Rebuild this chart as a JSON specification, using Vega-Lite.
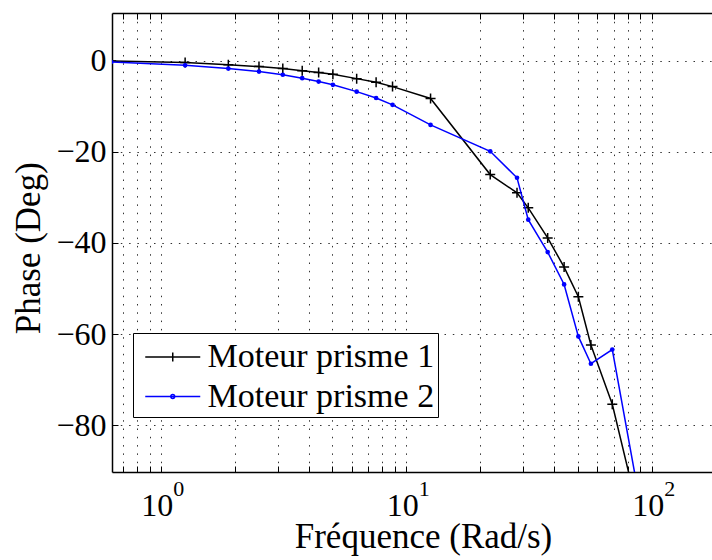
{
  "$schema": "https://vega.github.io/schema/vega-lite/v6.json",
  "width": 600,
  "height": 459,
  "autosize": {"type": "none"},
  "padding": {"left": 112, "top": 13, "right": 0, "bottom": 88},
  "background": "white",
  "data": {"values": [
    {"series": "Moteur prisme 1", "freq": 0.628, "phase": -0.1},
    {"series": "Moteur prisme 1", "freq": 1.257, "phase": -0.4},
    {"series": "Moteur prisme 1", "freq": 1.885, "phase": -0.9},
    {"series": "Moteur prisme 1", "freq": 2.513, "phase": -1.3},
    {"series": "Moteur prisme 1", "freq": 3.142, "phase": -1.75},
    {"series": "Moteur prisme 1", "freq": 3.770, "phase": -2.2},
    {"series": "Moteur prisme 1", "freq": 4.398, "phase": -2.6},
    {"series": "Moteur prisme 1", "freq": 5.027, "phase": -3.0},
    {"series": "Moteur prisme 1", "freq": 6.283, "phase": -3.95},
    {"series": "Moteur prisme 1", "freq": 7.540, "phase": -4.76},
    {"series": "Moteur prisme 1", "freq": 8.796, "phase": -5.7},
    {"series": "Moteur prisme 1", "freq": 12.566, "phase": -8.3},
    {"series": "Moteur prisme 1", "freq": 21.991, "phase": -25.0},
    {"series": "Moteur prisme 1", "freq": 28.274, "phase": -29.0},
    {"series": "Moteur prisme 1", "freq": 31.416, "phase": -32.3},
    {"series": "Moteur prisme 1", "freq": 37.699, "phase": -38.9},
    {"series": "Moteur prisme 1", "freq": 43.982, "phase": -45.3},
    {"series": "Moteur prisme 1", "freq": 50.265, "phase": -51.8},
    {"series": "Moteur prisme 1", "freq": 56.549, "phase": -62.4},
    {"series": "Moteur prisme 1", "freq": 69.115, "phase": -75.4},
    {"series": "Moteur prisme 1", "freq": 94.248, "phase": -105.6},
    {"series": "Moteur prisme 2", "freq": 0.628, "phase": -0.3},
    {"series": "Moteur prisme 2", "freq": 1.257, "phase": -1.03},
    {"series": "Moteur prisme 2", "freq": 1.885, "phase": -1.75},
    {"series": "Moteur prisme 2", "freq": 2.513, "phase": -2.4},
    {"series": "Moteur prisme 2", "freq": 3.142, "phase": -3.1},
    {"series": "Moteur prisme 2", "freq": 3.770, "phase": -3.85},
    {"series": "Moteur prisme 2", "freq": 4.398, "phase": -4.6},
    {"series": "Moteur prisme 2", "freq": 5.027, "phase": -5.3},
    {"series": "Moteur prisme 2", "freq": 6.283, "phase": -6.8},
    {"series": "Moteur prisme 2", "freq": 7.540, "phase": -8.2},
    {"series": "Moteur prisme 2", "freq": 8.796, "phase": -9.7},
    {"series": "Moteur prisme 2", "freq": 12.566, "phase": -14.1},
    {"series": "Moteur prisme 2", "freq": 21.991, "phase": -19.9},
    {"series": "Moteur prisme 2", "freq": 28.274, "phase": -25.7},
    {"series": "Moteur prisme 2", "freq": 31.416, "phase": -34.9},
    {"series": "Moteur prisme 2", "freq": 37.699, "phase": -42.0},
    {"series": "Moteur prisme 2", "freq": 43.982, "phase": -49.1},
    {"series": "Moteur prisme 2", "freq": 50.265, "phase": -60.5},
    {"series": "Moteur prisme 2", "freq": 56.549, "phase": -66.5},
    {"series": "Moteur prisme 2", "freq": 69.115, "phase": -63.4},
    {"series": "Moteur prisme 2", "freq": 94.248, "phase": -103.4}
  ]},
  "resolve": {"axis": {"x": "independent"}},
  "layer": [
    {
      "transform": [{"filter": "datum.series == 'Moteur prisme 1'"}],
      "mark": {"type": "line", "clip": true, "strokeWidth": 1.5, "color": "#000000"},
      "encoding": {
        "x": {"field": "freq", "type": "quantitative",
          "scale": {"type": "log", "domain": [0.633, 176.1], "nice": false},
          "axis": {
            "title": "Fréquence (Rad/s)",
            "values": [0.7, 0.8, 0.9, 1, 2, 3, 4, 5, 6, 7, 8, 9, 10, 20, 30, 40, 50, 60, 70, 80, 90, 100],
            "labelExpr": "(datum.value == 1 || datum.value == 10 || datum.value == 100) ? '10' : ''",
            "grid": true, "tickSize": -6, "labelPadding": 24, "labelFontSize": 32,
            "labelAlign": "right", "labelOffset": 12,
            "labelFlush": false, "labelOverlap": false,
            "titleFontSize": 35, "titleX": 311, "titleY": 75,
            "titleBaseline": "alphabetic", "titleAlign": "center"
          }
        },
        "y": {"field": "phase", "type": "quantitative",
          "scale": {"domain": [-90.25, 10.45], "nice": false, "zero": false},
          "axis": {
            "title": "Phase (Deg)",
            "values": [-80, -60, -40, -20, 0], "format": "d",
            "grid": true, "tickSize": -6, "labelPadding": 12, "labelFontSize": 32,
            "titleFontSize": 35, "titleX": -73, "titleY": 234.7, "titleAngle": 270,
            "titleAlign": "center", "titleBaseline": "alphabetic"
          }
        }
      }
    },
    {
      "transform": [{"filter": "datum.series == 'Moteur prisme 1'"}],
      "mark": {"type": "point", "clip": true, "shape": "M-1,0H1M0,-1V1", "size": 100, "filled": false, "stroke": "#000000", "strokeWidth": 1.5, "opacity": 1},
      "encoding": {
        "x": {"field": "freq", "type": "quantitative",
          "axis": {"orient": "bottom", "title": null, "domain": false, "grid": false,
            "tickSize": -6, "tickOpacity": 0, "labelPadding": 12, "labelFontSize": 22,
            "labelAlign": "left", "labelOffset": 12,
            "labelFlush": false, "labelOverlap": false,
            "values": [1, 10, 100],
            "labelExpr": "datum.value == 1 ? '0' : datum.value == 10 ? '1' : '2'"}},
        "y": {"field": "phase", "type": "quantitative"}
      }
    },
    {
      "transform": [{"filter": "datum.series == 'Moteur prisme 2'"}],
      "mark": {"type": "line", "clip": true, "strokeWidth": 1.5, "color": "#0000ff"},
      "encoding": {
        "x": {"field": "freq", "type": "quantitative", "axis": null},
        "y": {"field": "phase", "type": "quantitative"}
      }
    },
    {
      "transform": [{"filter": "datum.series == 'Moteur prisme 2'"}],
      "mark": {"type": "point", "clip": true, "shape": "circle", "size": 22, "filled": true, "color": "#0000ff", "opacity": 1},
      "encoding": {
        "x": {"field": "freq", "type": "quantitative", "axis": null},
        "y": {"field": "phase", "type": "quantitative"}
      }
    },
    {
      "transform": [{"filter": "datum.freq > 90"}],
      "mark": {"type": "point", "clip": true, "filled": false, "strokeWidth": 1.5, "opacity": 1},
      "encoding": {
        "x": {"field": "freq", "type": "quantitative",
          "axis": {"orient": "top", "title": null, "labels": false, "grid": false, "tickSize": -6,
            "values": [0.7, 0.8, 0.9, 1, 2, 3, 4, 5, 6, 7, 8, 9, 10, 20, 30, 40, 50, 60, 70, 80, 90, 100]}},
        "y": {"field": "phase", "type": "quantitative"},
        "color": {"field": "series", "type": "nominal",
          "scale": {"domain": ["Moteur prisme 1", "Moteur prisme 2"], "range": ["#000000", "#0000ff"]},
          "legend": {
            "title": null, "orient": "none", "legendX": 21, "legendY": 320,
            "labelFont": "Liberation Serif, Times New Roman, serif", "labelFontSize": 34, "labelColor": "#000000",
            "labelLimit": 600,
            "strokeColor": "#000000", "fillColor": "#ffffff", "padding": 3,
            "symbolSize": 1600, "symbolStrokeWidth": 1.5, "symbolOffset": 15.75,
            "labelOffset": 13.75, "rowPadding": 1.5
          }},
        "shape": {"field": "series", "type": "nominal",
          "scale": {"domain": ["Moteur prisme 1", "Moteur prisme 2"],
            "range": ["M-1.375,0H1.375M0,-0.22V0.22", "M-1.375,0H1.375M0.095,0A0.095,0.095 0 1 1 -0.095,0A0.095,0.095 0 1 1 0.095,0"]},
          "legend": {
            "title": null, "orient": "none", "legendX": 21, "legendY": 320,
            "labelFont": "Liberation Serif, Times New Roman, serif", "labelFontSize": 34, "labelColor": "#000000",
            "labelLimit": 600,
            "strokeColor": "#000000", "fillColor": "#ffffff", "padding": 3,
            "symbolSize": 1600, "symbolStrokeWidth": 1.5, "symbolOffset": 15.75,
            "labelOffset": 13.75, "rowPadding": 1.5
          }}
      }
    }
  ],
  "config": {
    "view": {"stroke": null},
    "axis": {
      "domainColor": "#000000", "domainWidth": 1.5,
      "tickColor": "#000000", "tickWidth": 1,
      "labelFont": "Liberation Serif, Times New Roman, serif", "titleFont": "Liberation Serif, Times New Roman, serif",
      "labelColor": "#000000", "titleColor": "#000000", "titleFontWeight": "normal",
      "gridColor": "#333333", "gridDash": [1.5, 6.8], "gridWidth": 1, "gridOpacity": 1
    }
  }
}
